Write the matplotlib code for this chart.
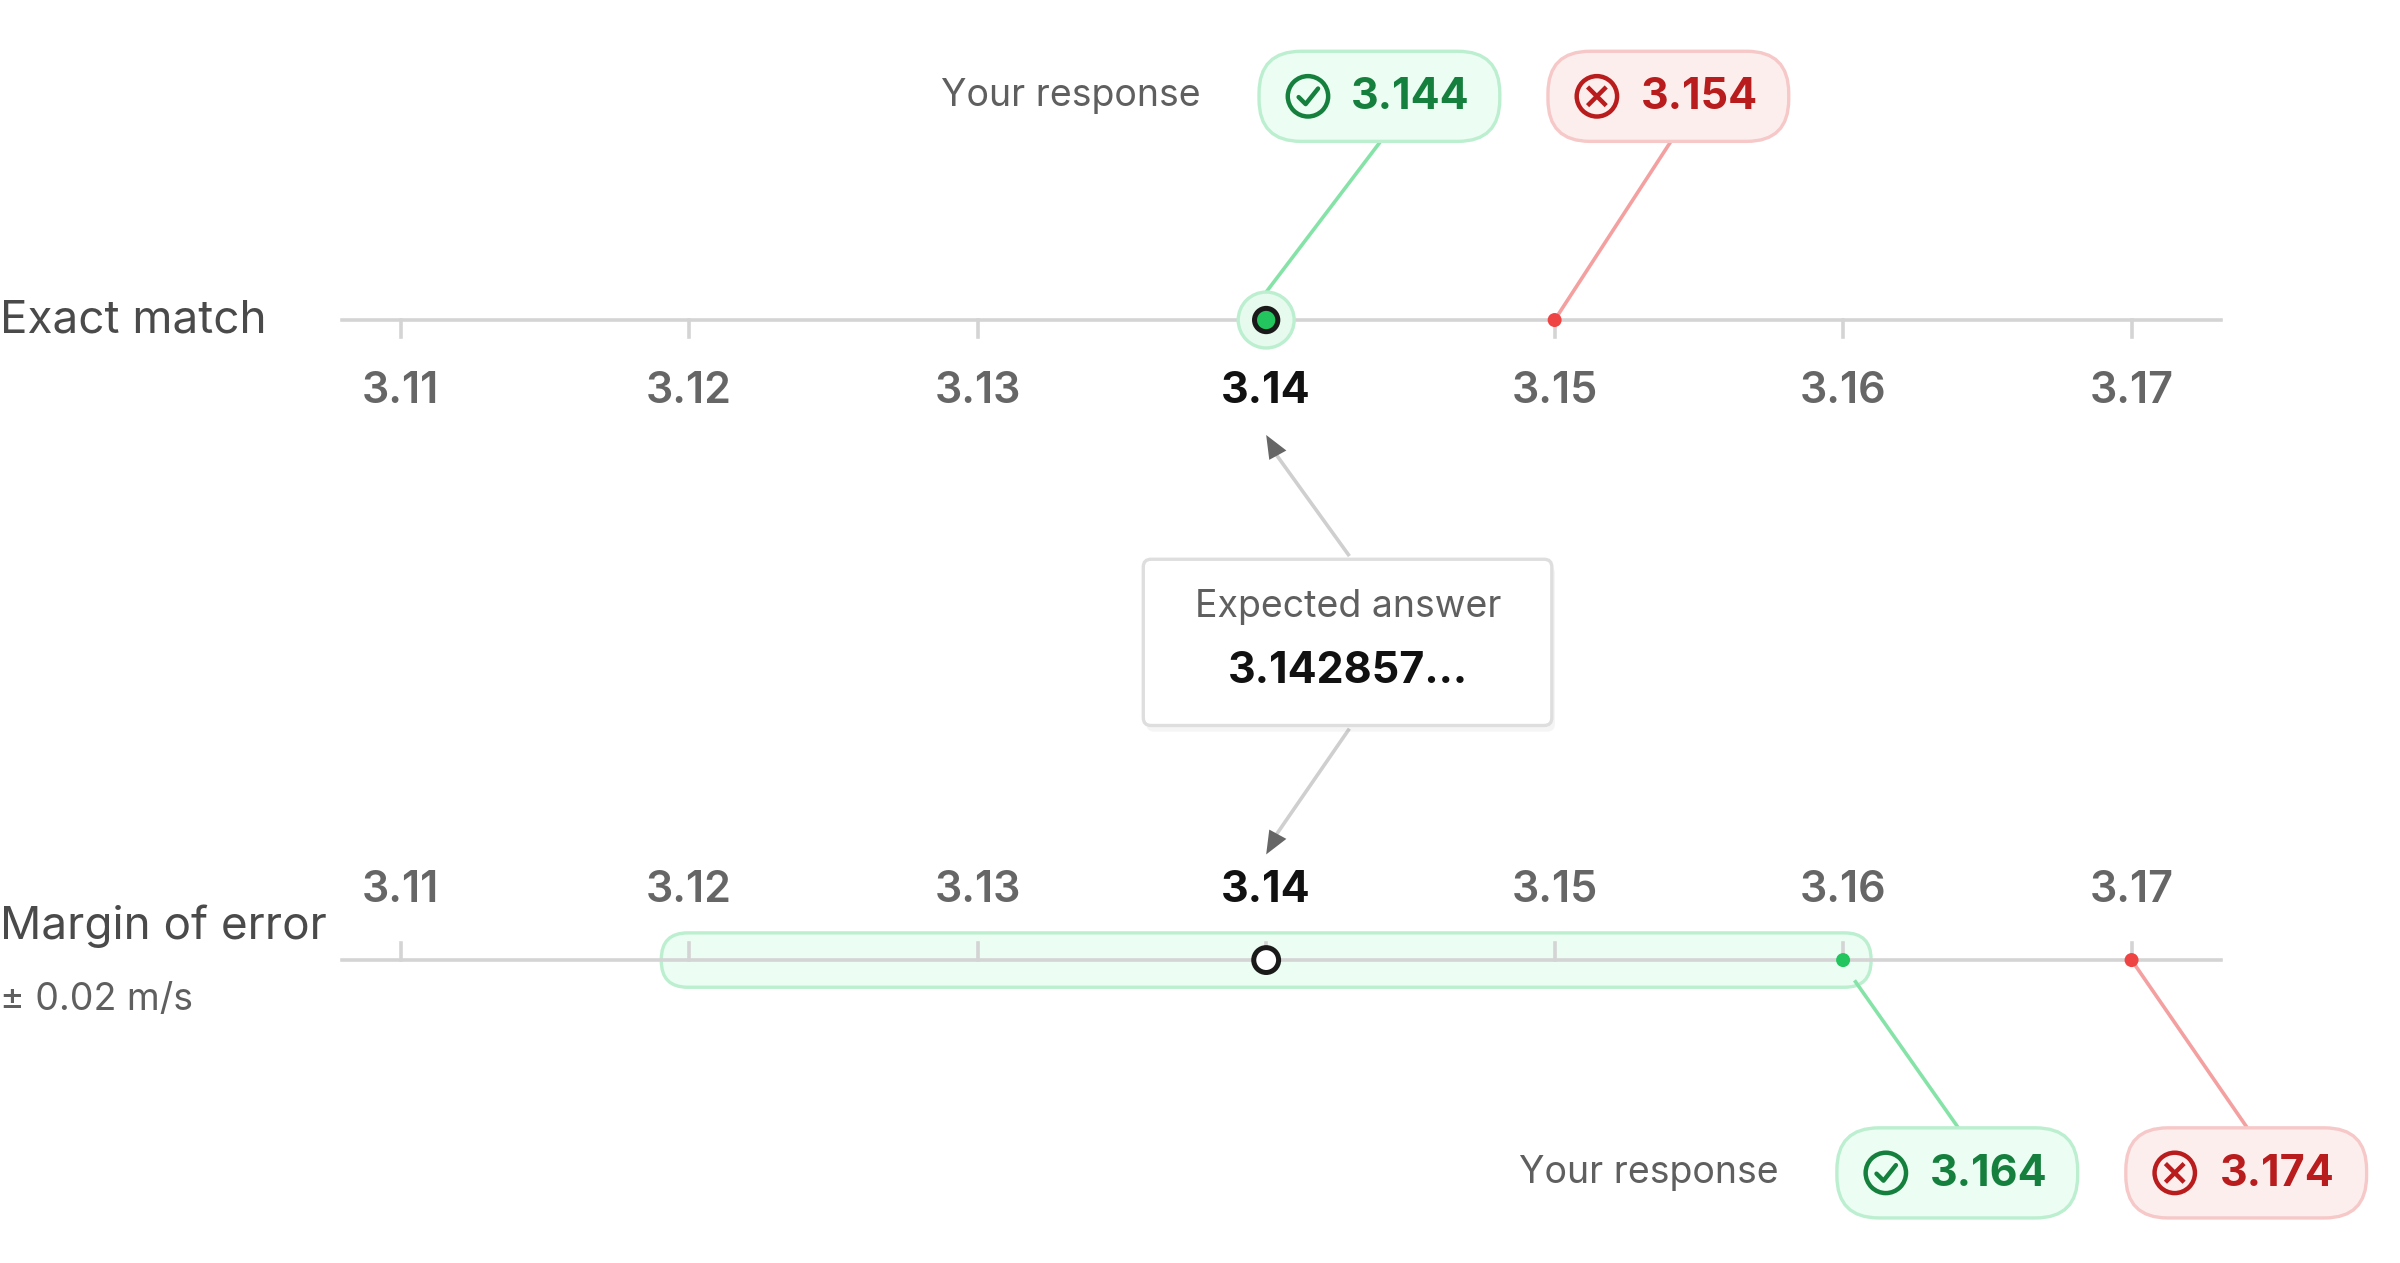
import matplotlib
matplotlib.use("Agg")
import matplotlib.pyplot as plt
from matplotlib.patches import FancyBboxPatch, Circle, Polygon

plt.rcParams['font.family'] = ['Inter', 'DejaVu Sans']

ticks = [3.11, 3.12, 3.13, 3.14, 3.15, 3.16, 3.17]
tick_labels = ["3.11", "3.12", "3.13", "3.14", "3.15", "3.16", "3.17"]
expected = 3.142857
expected_label = "3.142857..."
exact_correct = 3.144
exact_wrong = 3.154
margin = 0.02
margin_correct = 3.164
margin_wrong = 3.174
exact_snap_ok, exact_snap_bad = 3.14, 3.15
margin_snap_ok, margin_snap_bad = 3.16, 3.17

W, H = 1545, 813
fig = plt.figure(figsize=(12, 6.315), dpi=200)
ax = fig.add_axes([0, 0, 1, 1])
ax.set_xlim(0, W); ax.set_ylim(H, 0); ax.axis('off')

def px(v):
    return 258 + (v - 3.11) * 18570

GRAY = '#5f5f5f'
LINE = '#d4d4d4'
GREEN = '#22c55e'; GREEN_T = '#15803d'
RED = '#ef4444'; RED_T = '#b91c1c'

def badge(cx, cy, text, ok):
    fc, ec, tc = ('#ecfdf3', '#bbefcf', GREEN_T) if ok else ('#fdeeee', '#f6c8c8', RED_T)
    w, h = 155, 58
    ax.add_patch(FancyBboxPatch((cx - w/2, cy - h/2), w, h,
                                boxstyle="round,pad=0,rounding_size=27", fc=fc, ec=ec, lw=1.2, zorder=5))
    ix = cx - 46
    ax.add_patch(Circle((ix, cy), 13, fc='none', ec=tc, lw=1.6, zorder=6))
    if ok:
        ax.plot([ix-6, ix-1.5, ix+6.5], [cy+0.5, cy+5, cy-5], color=tc, lw=1.6, zorder=6, solid_capstyle='round')
    else:
        d = 5
        ax.plot([ix-d, ix+d], [cy-d, cy+d], color=tc, lw=1.6, zorder=6)
        ax.plot([ix-d, ix+d], [cy+d, cy-d], color=tc, lw=1.6, zorder=6)
    ax.text(cx + 20, cy + 1, text, ha='center', va='center', fontsize=15.5,
            fontweight='bold', color=tc, zorder=6)

def numberline(y, labels_above):
    ax.plot([220, 1430], [y, y], color=LINE, lw=1.3, zorder=1)
    for t, lab in zip(ticks, tick_labels):
        x = px(t)
        if labels_above:
            ax.plot([x, x], [y - 11, y], color=LINE, lw=1.3, zorder=1)
            ly = y - 45
        else:
            ax.plot([x, x], [y, y + 11], color=LINE, lw=1.3, zorder=1)
            ly = y + 46
        bold = abs(t - 3.14) < 1e-9
        ax.text(x, ly, lab, ha='center', va='center', fontsize=15.5,
                fontweight='bold' if bold else 'semibold', color='#111111' if bold else '#666666')

# Top: exact match
yt = 206
numberline(yt, False)
ax.text(0, yt, "Exact match", ha='left', va='center', fontsize=16.5, color='#4a4a4a')
ax.text(773, 62, "Your response", ha='right', va='center', fontsize=13.5, color=GRAY)
badge(888, 62, f"{exact_correct:.3f}", True)
badge(1074, 62, f"{exact_wrong:.3f}", False)
ax.plot([888, px(exact_snap_ok)], [92, yt - 18], color='#86e3a8', lw=1.3, zorder=2)
ax.plot([1075, px(exact_snap_bad)], [92, yt], color='#f4a0a0', lw=1.3, zorder=2)
ax.add_patch(Circle((px(exact_snap_ok), yt), 18, fc='#e6faee', ec='#bbefcf', lw=1.2, zorder=3))
ax.add_patch(Circle((px(exact_snap_ok), yt), 7.5, fc=GREEN, ec='#1a1a1a', lw=1.8, zorder=4))
ax.add_patch(Circle((px(exact_snap_bad), yt), 4.5, fc=RED, ec='none', zorder=4))

# Expected box
bx0, bx1, by0, by1 = 736, 999, 360, 467
ax.add_patch(FancyBboxPatch((bx0 + 2, by0 + 4), bx1 - bx0, by1 - by0,
                            boxstyle="round,pad=0,rounding_size=5", fc='#000000', alpha=0.04, ec='none', zorder=4))
ax.add_patch(FancyBboxPatch((bx0, by0), bx1 - bx0, by1 - by0,
                            boxstyle="round,pad=0,rounding_size=5", fc='white', ec='#dedede', lw=1.2, zorder=5))
ax.text(868, 391, "Expected answer", ha='center', va='center', fontsize=13.5, color=GRAY, zorder=6)
ax.text(868, 432, expected_label, ha='center', va='center', fontsize=15.5, fontweight='bold', color='#111111', zorder=6)
ex = px(3.14)
ax.plot([868, ex + 6], [357, 292], color='#cfcfcf', lw=1.3, zorder=2)
ax.add_patch(Polygon([[ex, 280], [ex + 13, 290], [ex + 2, 296]], closed=True, fc='#666666', ec='none', zorder=3))
ax.plot([868, ex + 6], [470, 538], color='#cfcfcf', lw=1.3, zorder=2)
ax.add_patch(Polygon([[ex, 550], [ex + 13, 540], [ex + 2, 534]], closed=True, fc='#666666', ec='none', zorder=3))

# Bottom: margin of error
yb = 618
x0b = px(3.14 - margin) - 18
x1b = px(3.14 + margin) + 18
ax.add_patch(FancyBboxPatch((x0b, yb - 17.5), x1b - x0b, 35,
                            boxstyle="round,pad=0,rounding_size=17", fc='#ecfdf3', ec='#bbefcf', lw=1.2, zorder=0))
numberline(yb, True)
ax.text(0, 596, "Margin of error", ha='left', va='center', fontsize=16.5, color='#4a4a4a')
ax.text(0, 644, f"± {margin} m/s", ha='left', va='center', fontsize=13.5, color=GRAY)
ax.add_patch(Circle((px(3.14), yb), 8, fc='white', ec='#1a1a1a', lw=1.8, zorder=4))
ax.add_patch(Circle((px(margin_snap_ok), yb), 4.5, fc=GREEN, ec='none', zorder=4))
ax.add_patch(Circle((px(margin_snap_bad), yb), 4.5, fc=RED, ec='none', zorder=4))
ax.plot([px(margin_snap_ok) + 8, 1260], [yb + 14, 725], color='#86e3a8', lw=1.3, zorder=2)
ax.plot([px(margin_snap_bad), 1446], [yb, 725], color='#f4a0a0', lw=1.3, zorder=2)
ax.text(1145, 755, "Your response", ha='right', va='center', fontsize=13.5, color=GRAY)
badge(1260, 755, f"{margin_correct:.3f}", True)
badge(1446, 755, f"{margin_wrong:.3f}", False)

fig.savefig("out.png", dpi=200, facecolor='white')
